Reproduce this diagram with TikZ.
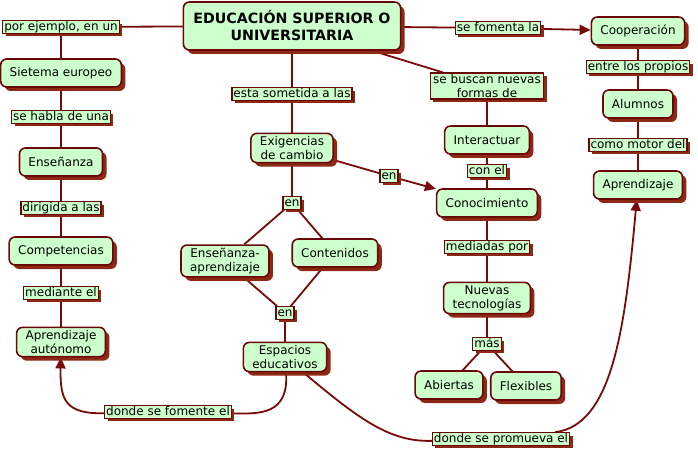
\documentclass[tikz,border=0pt]{standalone}
\usepackage{fontspec}
\setmainfont{DejaVu Sans}
\usetikzlibrary{arrows.meta, shadows, backgrounds}
\definecolor{mapfill}{RGB}{204,255,204}
\definecolor{mapedge}{RGB}{105,8,8}
\definecolor{mapshade}{RGB}{140,40,20}
\definecolor{mapline}{RGB}{120,10,10}

\begin{document}
\begin{tikzpicture}[x=1pt, y=-1pt,
  concept/.style={draw=mapedge, fill=mapfill, rounded corners=6pt, line width=1.6pt,
    align=center, font=\fontsize{12}{14}\selectfont, minimum height=28pt,
    inner xsep=9pt, inner ysep=3pt,
    drop shadow={shadow xshift=4pt, shadow yshift=-4pt, fill=mapshade, opacity=1}},
  link/.style={draw=mapedge, fill=mapfill, line width=1.2pt, align=center,
    font=\fontsize{12}{14}\selectfont, inner xsep=1.5pt, inner ysep=0.5pt,
    text height=9pt, text depth=2.5pt,
    drop shadow={shadow xshift=3pt, shadow yshift=-3pt, fill=mapshade, opacity=1}},
  conn/.style={draw=mapline, line width=1.8pt},
  arr/.style={conn, -{Triangle[length=11pt, width=10pt]}}]
\useasboundingbox (0,0) rectangle (698,454);

% title
\node[concept, font=\bfseries\fontsize{14.2}{17}\selectfont, inner xsep=10pt,
  minimum height=48pt] (uni) at (292,26) {EDUCACIÓN SUPERIOR O\\UNIVERSITARIA};

% left column
\node[link] (ejemplo) at (61,27) {por ejemplo, en un};
\node[concept] (europa) at (61,73) {Sietema europeo};
\node[link] (habla) at (61,117) {se habla de una};
\node[concept] (ensenanza) at (61,162) {Enseñanza};
\node[link] (dirigida) at (61,208) {dirigida a las};
\node[concept] (compet) at (61,251) {Competencias};
\node[link] (mediante) at (61,293) {mediante el};
\node[concept] (autonomo) at (61,342) {Aprendizaje\\autónomo};

% middle column
\node[link] (sometida) at (292,94) {esta sometida a las};
\node[concept] (exig) at (292,148) {Exigencias\\de cambio};
\node[link] (en1) at (292,203) {en};
\node[concept] (ensapr) at (225,261) {Enseñanza-\\aprendizaje};
\node[concept] (conten) at (335,253) {Contenidos};
\node[link] (en2) at (285,313) {en};
\node[concept] (espacios) at (285,357) {Espacios\\educativos};
\node[link] (en3) at (389,176) {en};

% right middle column
\node[link, text height=, text depth=, minimum height=26pt, inner xsep=3pt]
  (buscan) at (487,86) {se buscan nuevas\\formas de};
\node[concept] (interact) at (487,140) {Interactuar};
\node[link] (conel) at (487,171) {con el};
\node[concept] (conoc) at (487,203) {Conocimiento};
\node[link] (mediadas) at (487,247) {mediadas por};
\node[concept] (nuevas) at (487,298) {Nuevas\\tecnologías};
\node[link] (mas) at (487,344) {más};
\node[concept] (abiertas) at (449,385) {Abiertas};
\node[concept] (flex) at (526,386) {Flexibles};

% right column
\node[link] (fomenta) at (498,28) {se fomenta la};
\node[concept] (coop) at (638,31) {Cooperación};
\node[link] (entre) at (638,67) {entre los propios};
\node[concept] (alumnos) at (638,104) {Alumnos};
\node[link] (motor) at (638,145) {como motor del};
\node[concept] (aprend) at (638,185) {Aprendizaje};

% bottom links
\node[link] (fomente) at (168,412) {donde se fomente el};
\node[link] (promueva) at (501,439) {donde se promueva el};

\begin{scope}[on background layer]
\draw[conn] (uni) -- (ejemplo);
\draw[conn] (ejemplo) -- (europa);
\draw[conn] (europa) -- (habla);
\draw[conn] (habla) -- (ensenanza);
\draw[conn] (ensenanza) -- (dirigida);
\draw[conn] (dirigida) -- (compet);
\draw[conn] (compet) -- (mediante);
\draw[conn] (mediante) -- (autonomo);

\draw[conn] (uni) -- (sometida);
\draw[conn] (sometida) -- (exig);
\draw[conn] (exig) -- (en1);
\draw[conn] (en1) -- (ensapr);
\draw[conn] (en1) -- (conten);
\draw[conn] (ensapr) -- (en2);
\draw[conn] (conten) -- (en2);
\draw[conn] (en2) -- (espacios);
\draw[conn] (exig) -- (en3);
\draw[arr] (en3) -- (conoc);

\draw[conn] (uni) -- (buscan);
\draw[conn] (buscan) -- (interact);
\draw[conn] (interact) -- (conel);
\draw[conn] (conel) -- (conoc);
\draw[conn] (conoc) -- (mediadas);
\draw[conn] (mediadas) -- (nuevas);
\draw[conn] (nuevas) -- (mas);
\draw[conn] (mas) -- (abiertas);
\draw[conn] (mas) -- (flex);

\draw[conn] (uni) -- (fomenta);
\draw[arr] (fomenta) -- (coop);
\draw[conn] (coop) -- (entre);
\draw[conn] (entre) -- (alumnos);
\draw[conn] (alumnos) -- (motor);
\draw[conn] (motor) -- (aprend);

% curved links at the bottom
\draw[conn] (espacios) .. controls (289,415) and (260,414) .. (fomente);
\draw[arr] (fomente) .. controls (65,414) and (60,400) .. (autonomo);
\draw[conn] (espacios) .. controls (360,420) and (390,442) .. (promueva);
\draw[arr] (promueva) .. controls (612,425) and (625,330) .. (aprend);
\end{scope}
\end{tikzpicture}
\end{document}
